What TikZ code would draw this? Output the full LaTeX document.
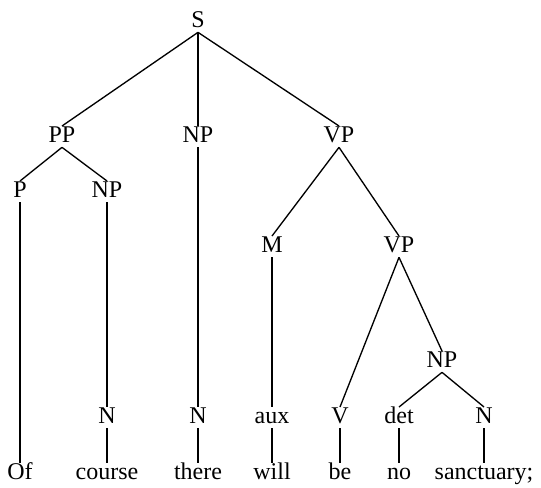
\documentclass[tikz,border=0pt]{standalone}
\usepackage{fontspec}
\setmainfont{Liberation Serif}

\tikzset{every picture/.style={line width=1pt}}
\tikzset{lbl/.style={anchor=base, inner sep=0pt, text height=11.5pt, text depth=3.5pt, font=\fontsize{18}{21}\selectfont}}

\begin{document}
\begin{tikzpicture}[x=0.75pt,y=0.75pt,yscale=-1,xscale=1]
%set diagram left start at 0, and has height of 487
\useasboundingbox (0,0) rectangle (541,487);

% Text Node
\node [lbl] (s) at (198,27) {S};
% Text Node
\node [lbl] (pp) at (62,142) {PP};
% Text Node
\node [lbl] (np) at (198,142) {NP};
% Text Node
\node [lbl] (vp) at (339,142) {VP};
% Text Node
\node [lbl] (p) at (20,197) {P};
% Text Node
\node [lbl] (npa) at (107,197) {NP};
% Text Node
\node [lbl] (m) at (272,252) {M};
% Text Node
\node [lbl] (vpa) at (399,252) {VP};
% Text Node
\node [lbl] (npb) at (442,367) {NP};
% Text Node
\node [lbl] (na) at (107,423) {N};
% Text Node
\node [lbl] (nb) at (198,423) {N};
% Text Node
\node [lbl] (aux) at (272,423) {aux};
% Text Node
\node [lbl] (v) at (340,423) {V};
% Text Node
\node [lbl] (det) at (399,423) {det};
% Text Node
\node [lbl] (nc) at (484,423) {N};
% Text Node
\node [lbl] (of) at (20,479) {Of};
% Text Node
\node [lbl] (course) at (107,479) {course};
% Text Node
\node [lbl] (there) at (198,479) {there};
% Text Node
\node [lbl] (will) at (272,479) {will};
% Text Node
\node [lbl] (be) at (340,479) {be};
% Text Node
\node [lbl] (no) at (399,479) {no};
% Text Node
\node [lbl] (sanct) at (484,479) {sanctuary;};

%Straight Lines
\draw (s.south) -- (pp.north);
\draw (s.south) -- (np.north);
\draw (s.south) -- (vp.north);
%Straight Lines
\draw (pp.south) -- (p.north);
\draw (pp.south) -- (npa.north);
\draw (np.south) -- (nb.north);
\draw (vp.south) -- (m.north);
\draw (vp.south) -- (vpa.north);
%Straight Lines
\draw (p.south) -- (of.north);
\draw (npa.south) -- (na.north);
\draw (na.south) -- (course.north);
\draw (nb.south) -- (there.north);
\draw (m.south) -- (aux.north);
\draw (aux.south) -- (will.north);
%Straight Lines
\draw (vpa.south) -- (v.north);
\draw (vpa.south) -- (npb.north);
\draw (npb.south) -- (det.north);
\draw (npb.south) -- (nc.north);
\draw (v.south) -- (be.north);
\draw (det.south) -- (no.north);
\draw (nc.south) -- (sanct.north);

\end{tikzpicture}
\end{document}
